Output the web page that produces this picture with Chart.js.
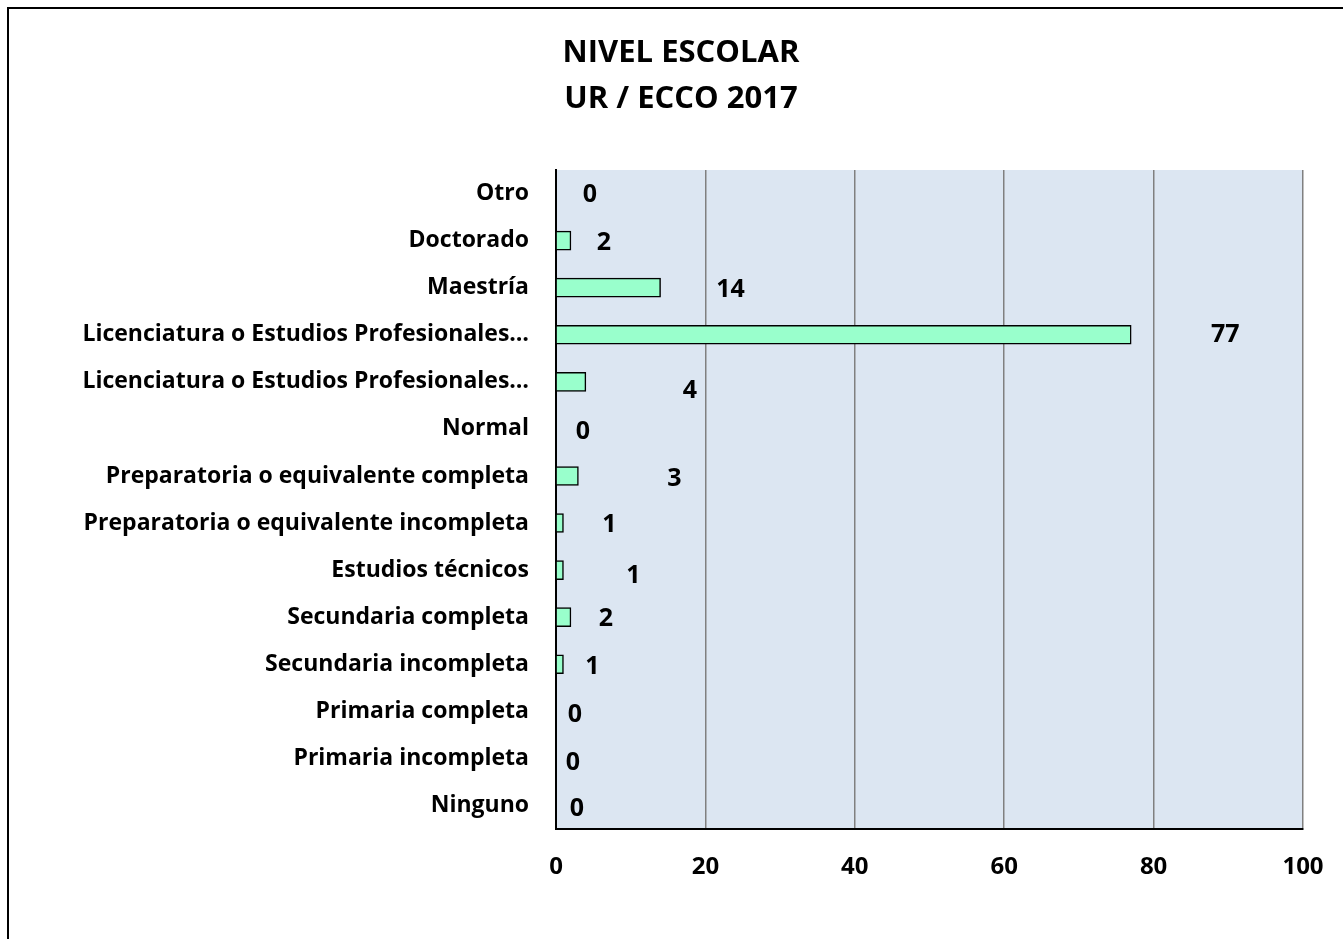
<!DOCTYPE html>
<html>
<head>
<meta charset="utf-8">
<script src="https://cdn.jsdelivr.net/npm/chart.js@4/dist/chart.umd.min.js"></script>
<style>
  html, body { margin: 0; padding: 0; background: #fff; }
  #chartContent { width: 1343px; height: 939px; }
</style>
</head>
<body>
<div id="chartContent"><canvas id="chart" width="1343" height="939"></canvas></div>
<script>
// niveles escolares, de arriba hacia abajo
var categorias = [
    'Otro',
    'Doctorado',
    'Maestría',
    'Licenciatura o Estudios Profesionales…',
    'Licenciatura o Estudios Profesionales…',
    'Normal',
    'Preparatoria o equivalente completa',
    'Preparatoria o equivalente incompleta',
    'Estudios técnicos',
    'Secundaria completa',
    'Secundaria incompleta',
    'Primaria completa',
    'Primaria incompleta',
    'Ninguno'
];
var personas = [0, 2, 14, 77, 4, 0, 3, 1, 1, 2, 1, 0, 0, 0];
var ticksX = [0, 20, 40, 60, 80, 100];
var titulo = ['NIVEL ESCOLAR', 'UR / ECCO 2017'];

// desplazamiento de cada etiqueta respecto al final de su barra (px)
var etiquetaDx = [34, 33, 70, 94, 104, 27, 96, 46, 70, 35, 29, 19, 17, 21];
var etiquetaDy = [1, 2, 2, 0, 9, 3, 3, 2, 6, 2, 3, 4, 4, 3];

var fuente = "'Open Sans', sans-serif";

// fondo, marco y titulo
var fondo = {
    id: 'fondo',
    beforeDraw: function (chart) {
        var ctx = chart.ctx;
        var a = chart.chartArea;
        ctx.save();
        ctx.fillStyle = '#ffffff';
        ctx.fillRect(0, 0, chart.width, chart.height);
        ctx.strokeStyle = '#000000';
        ctx.lineWidth = 2;
        ctx.strokeRect(8, 8, chart.width + 20, chart.height + 20);
        ctx.fillStyle = '#DCE6F2';
        ctx.fillRect(a.left, a.top, a.right - a.left, a.bottom - a.top);
        ctx.fillStyle = '#000000';
        ctx.font = "bold 31px " + fuente;
        ctx.textAlign = 'center';
        ctx.textBaseline = 'middle';
        ctx.fillText(titulo[0], 681, 53);
        ctx.fillText(titulo[1], 681, 99);
        ctx.restore();
    }
};

// valores junto a cada barra
var etiquetas = {
    id: 'etiquetas',
    afterDatasetsDraw: function (chart) {
        var ctx = chart.ctx;
        var meta = chart.getDatasetMeta(0);
        ctx.save();
        ctx.fillStyle = '#000000';
        ctx.font = "bold 25px " + fuente;
        ctx.textAlign = 'center';
        ctx.textBaseline = 'middle';
        meta.data.forEach(function (bar, i) {
            ctx.fillText(String(personas[i]), bar.x + etiquetaDx[i], bar.y + etiquetaDy[i]);
        });
        ctx.restore();
    }
};

var config = {
    type: 'bar',
    data: {
        labels: categorias,
        datasets: [{
            data: personas,
            backgroundColor: '#99FFCC',
            borderColor: '#000000',
            borderWidth: 1.5,
            barThickness: 19
        }]
    },
    options: {
        indexAxis: 'y',
        responsive: false,
        animation: false,
        layout: { padding: { top: 170, right: 40, left: 0, bottom: 0 } },
        plugins: {
            legend: { display: false },
            title: { display: false },
            tooltip: { enabled: false }
        },
        scales: {
            x: {
                min: 0,
                max: 100,
                afterBuildTicks: function (scale) {
                    scale.ticks = ticksX.map(function (v) { return { value: v }; });
                },
                afterFit: function (scale) {
                    scale.height = 110;
                    scale.paddingLeft = 0;
                    scale.paddingRight = 0;
                },
                grid: {
                    color: '#808080',
                    lineWidth: 1.5,
                    tickLength: 0,
                    drawTicks: false
                },
                border: { display: true, color: '#000000', width: 2 },
                ticks: {
                    color: '#000000',
                    padding: 24,
                    font: { family: fuente, size: 24, weight: 'bold' }
                }
            },
            y: {
                afterFit: function (scale) {
                    scale.width = 556;
                    scale.paddingTop = 0;
                    scale.paddingBottom = 0;
                },
                grid: { display: false, drawTicks: false, tickLength: 0 },
                border: { display: true, color: '#000000', width: 2 },
                ticks: {
                    color: '#000000',
                    padding: 27,
                    autoSkip: false,
                    font: { family: fuente, size: 23, weight: 'bold' }
                }
            }
        }
    },
    plugins: [fondo, etiquetas]
};

new Chart(document.getElementById('chart'), config);
</script>
</body>
</html>
